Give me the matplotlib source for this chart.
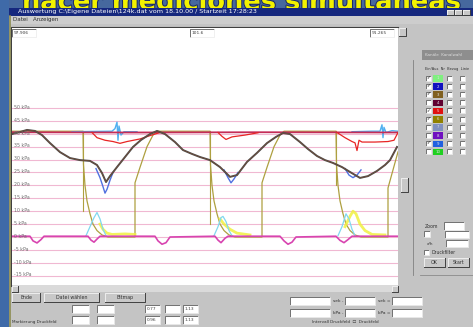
import matplotlib.pyplot as plt
from matplotlib.patches import Rectangle
import matplotlib.patheffects as pe

nan = float('nan')

# pressure traces, x = sample index across the screen (0..386), y = kPa
n_mean = [0, 8, 15, 23, 30, 38, 48, 58, 68, 78, 85, 90, 94, 98, 105, 113, 121, 129, 138, 145,
          153, 163, 171, 180, 188, 198, 208, 218, 225, 235, 245, 255, 264, 271, 278, 288, 296,
          305, 313, 321, 330, 338, 348, 356, 365, 373, 378, 385]
p_mean = [39.9, 40.7, 41.5, 41.1, 39.5, 36.4, 32.9, 30.6, 29.8, 29.5, 27.9, 24.8, 21.3, 23.6,
          27.1, 31.0, 34.9, 37.6, 39.9, 41.1, 39.9, 36.8, 33.7, 32.2, 31.0, 29.8, 27.1, 23.3,
          24.0, 29.1, 32.6, 36.4, 38.8, 40.3, 39.9, 36.8, 34.1, 31.4, 29.8, 28.7, 27.1, 25.2,
          22.9, 23.6, 25.6, 27.9, 29.8, 34.9]

n_aorta = [0, 120, 250, 386]
p_aorta = [40.6, 40.5, 40.6, 40.5]

n_red = [80, 85, 93, 101, 108, 115, 128, 138, 148, nan, 206, 210, 214, 220, 233, 246, nan,
         325, 333, 340, 343, 345, 347, 350, 363, 376, 382, 386]
p_red = [40.5, 38.5, 37.5, 37.0, 36.3, 37.0, 38.0, 39.3, 40.5, nan, 40.5, 39.0, 37.8, 38.8,
         39.5, 40.4, nan, 40.5, 38.5, 37.0, 36.5, 33.5, 37.5, 36.8, 36.8, 37.0, 37.5, 40.5]

n_lblue = [60, 80, 100, 103, 105, 106, 107, 109, 112, 125, nan,
           340, 360, 368, 370, 371, 372, 374, 380, 386]
p_lblue = [40.8, 40.9, 41.0, 42.0, 44.5, 37.5, 43.0, 39.5, 40.8, 40.8, nan,
           40.8, 41.0, 41.0, 43.5, 38.5, 42.5, 40.5, 41.2, 41.0]

n_blue = [84, 88, 91, 93, 95, 98, 101, nan, 212, 216, 219, 222, 226, nan, 333, 337, 341, 345, 349]
p_blue = [26.5, 23.0, 19.5, 17.0, 18.5, 22.0, 25.0, nan, 26.0, 23.0, 21.0, 22.5, 25.0, nan,
          26.5, 24.0, 23.0, 24.0, 26.0]

n_lv = [0, 71, 71.5, 73, 75, 78, 81, 85, 90, 96, 123, 123, 128, 135, 141, 145,
        198, 198.5, 200, 202, 205, 208, 212, 217, 223, 250, 250, 255, 262, 268, 272,
        324, 324.5, 326, 328, 331, 334, 338, 343, 349, 376, 376, 381, 386]
p_lv = [41, 41, 28, 20, 14, 9, 5, 2.5, 0.8, 0, 0, 21, 27, 35, 39.5, 41,
        41, 28, 20, 14, 9, 5, 2.5, 0.8, 0, 0, 21, 27, 35, 39.5, 41,
        41, 28, 20, 14, 9, 5, 2.5, 0.8, 0, 0, 19, 26, 33]
n_lv_drop = [71, 198, 324]
p_lv_drop_low = [10, 5, 20]

n_yellow = [88, 91, 95, 100, 113, 123, nan, 208, 212, 218, 225, 238, nan,
            333, 338, 341, 344, 348, 353, 360, 373]
p_yellow = [5, 3, 1.5, 1.0, 1.2, 1.0, nan, 7, 5, 3, 1.5, 0.8, nan,
            4, 8, 10, 9, 5, 2.5, 1.0, 0.8]

n_cyan = [74, 78, 82, 85, 88, 91, 94, nan, 202, 206, 209, 211, 214, 217, 220, nan,
          326, 330, 334, 337, 340, 343]
p_cyan = [0.5, 4, 7.5, 9.5, 7, 3, 0.5, nan, 0.5, 4, 7.5, 8, 6, 2.5, 0.5, nan,
          0.5, 4, 9, 7, 3, 0.5]

n_base = [0, 18, 21, 25, 29, 32, 76, 79, 82, 85, 88, 143, 146, 150, 154, 158, 203, 206, 209,
          213, 216, 268, 272, 276, 280, 284, 324, 328, 332, 336, 340, 386]
p_base = [0.3, 0.3, -1.5, -2.3, -1.0, 0.3, 0.3, -1.2, -2.0, -0.8, 0.3, 0.3, -1.5, -2.8, -2.2,
          0.0, 0.3, -1.2, -2.2, -0.5, 0.3, 0.3, -1.5, -2.8, -2.0, 0.0, 0.3, -1.3, -2.2, -1.0,
          0.3, 0.3]

grid_kpa = [50, 45, 40, 35, 30, 25, 20, 15, 10, 5, 0, -5, -10, -15]

channel_colors = ['#80f080', '#1010c0', '#806020', '#600030', '#e01010',
                  '#908000', '#8090c0', '#7010c0', '#2060e0', '#20d020']
channel_on = [1, 1, 1, 0, 1, 1, 0, 0, 1, 0]
top_values = ['97.906', '101.6', '91.265']

fig = plt.figure(figsize=(4.73, 3.27), dpi=100)
bg = fig.add_axes([0, 0, 1, 1])
bg.set_xlim(0, 473)
bg.set_ylim(327, 0)
bg.axis('off')


def box(a, x, y, w, h, fc, ec='none', lw=0.5, z=1):
    a.add_patch(Rectangle((x, y), w, h, facecolor=fc, edgecolor=ec, linewidth=lw, zorder=z))


def sunken(a, x, y, w, h, fc='white', label=None):
    box(a, x, y, w, h, fc)
    a.plot([x, x, x + w], [y + h, y, y], color='#5a5a5a', lw=0.6)
    a.plot([x, x + w, x + w], [y + h, y + h, y], color='#eeeeee', lw=0.6)
    if label:
        a.text(x + 1.5, y + h / 2, label, fontsize=3.2, va='center', color='#404040')


def button(a, x, y, w, h, label):
    box(a, x, y, w, h, '#c8c8c8')
    a.plot([x, x, x + w], [y + h, y, y], color='#f4f4f4', lw=0.6)
    a.plot([x, x + w, x + w], [y + h, y + h, y], color='#404040', lw=0.7)
    a.text(x + w / 2, y + h / 2 + 0.3, label, fontsize=3.4, ha='center', va='center',
           color='#303030')


# slide background with its title, mostly hidden behind the window
box(bg, 0, 0, 473, 327, '#46689e', z=0)
box(bg, 0, 0, 9, 327, '#3f6aa8', z=0)
bg.text(22, 9.5, 'hacer mediciones simultáneas', fontsize=18.5,
        fontweight='bold', color='#f2f200', va='baseline', zorder=0.5,
        path_effects=[pe.withStroke(linewidth=1.5, foreground='#1c2c66')])

# window
box(bg, 9, 8, 464, 319, '#c4c4c4')
box(bg, 9, 8, 464, 8, '#16287e')
bg.text(18, 12, 'Auswertung C:\\Eigene Dateien\\124k.dat vom 18.10.00 / Startzeit 17:28:23',
        fontsize=4.6, color='white', va='center')
for bx in [447, 455, 463]:
    button(bg, bx, 9.5, 7, 5.5, '')
box(bg, 9, 16, 464, 8, '#cdcdcd')
bg.text(13, 20, 'Datei   Anzeigen', fontsize=4.0, color='#303030', va='center')
bg.plot([9.5, 9.5], [16, 327], color='#8c8c50', lw=1.2)

# plot frame
bg.plot([11, 11, 398], [286, 27, 27], color='#404040', lw=0.8)
box(bg, 12, 285, 386, 7, '#dadada')
button(bg, 12, 286, 6, 6, '')
button(bg, 392, 286, 6, 6, '')

# main chart
ax = fig.add_axes([12 / 473, (327 - 285) / 327, 386 / 473, (285 - 28) / 327])
ax.set_xlim(0, 386)
ax.set_ylim(-18.6, 81)
ax.set_facecolor('white')
for s in ax.spines.values():
    s.set_visible(False)
ax.set_xticks([])
ax.set_yticks([])
for g in grid_kpa:
    ax.axhline(g, color='#f0b8d2', lw=0.8, zorder=1)
    ax.text(1.5, g + 0.3, f'{g} kPa', fontsize=3.4, color='#707070', va='center', zorder=6)

ax.plot(n_lblue, p_lblue, color='#50b0f0', lw=1.0, zorder=3)
ax.plot(n_lv, p_lv, color='#aea040', lw=0.9, zorder=2)
for xv, lo in zip(n_lv_drop, p_lv_drop_low):
    ax.plot([xv, xv], [41, lo], color='#aea040', lw=0.8, zorder=2)
ax.plot(n_aorta, p_aorta, color='#c42c58', lw=1.3, zorder=3)
ax.plot(n_red, p_red, color='#e82424', lw=0.9, zorder=4)
ax.plot(n_blue, p_blue, color='#5070e0', lw=1.0, zorder=3)
ax.plot(n_mean, p_mean, color='#4a4a4a', lw=1.4, zorder=4)
ax.plot(n_mean, p_mean, color='#8a5030', lw=0.5, alpha=0.7, zorder=5)
ax.plot(n_yellow, p_yellow, color='#f0f040', lw=2.0, alpha=0.85, zorder=3)
ax.plot(n_cyan, p_cyan, color='#80d8f0', lw=0.9, zorder=3)
ax.plot(n_base, p_base, color='#d844b0', lw=1.2, zorder=3)

# overlay for the boxes sitting on the chart and the side/bottom panels
top = fig.add_axes([0, 0, 1, 1])
top.set_xlim(0, 473)
top.set_ylim(327, 0)
top.axis('off')
top.patch.set_alpha(0)
for xb, lab in zip([12, 190, 370], top_values):
    sunken(top, xb, 28.5, 24, 8, label=lab)
button(top, 399, 28, 7, 8, '')

# side panel
top.plot([413, 413], [60, 275], color='#808080', lw=0.6)
button(top, 401, 178, 7, 14, '')
box(top, 422, 50, 51, 10, '#8e8e8e')
top.text(425, 55, 'Kanäle  Kanalwahl', fontsize=3.0, color='#dcdcdc', va='center')
top.text(425, 69, 'Ein/Aus  Nr  Bezug  Linie', fontsize=2.6, color='#303030', va='center')
for i, (c, on) in enumerate(zip(channel_colors, channel_on)):
    yr = 75.5 + 8.2 * i
    sunken(top, 426, yr, 5, 5)
    if on:
        top.text(428.5, yr + 2.7, '✓', fontsize=3.2, ha='center', va='center', color='black')
    box(top, 433, yr - 0.5, 10, 6.5, c)
    top.text(438, yr + 2.8, str(i + 1), fontsize=2.8, ha='center', va='center', color='#e0e0e0')
    sunken(top, 447, yr, 5, 5)
    sunken(top, 460, yr, 5, 5)

top.text(425, 226, 'Zoom', fontsize=3.3, va='center', color='#303030')
sunken(top, 444, 222, 20, 8)
sunken(top, 424, 231, 6, 6)
sunken(top, 445, 231, 24, 7)
top.text(427, 244, 'x/h', fontsize=3.0, va='center', color='#303030')
sunken(top, 446, 240, 22, 7)
sunken(top, 424, 250, 5, 5)
top.text(431, 252.5, 'Druckfilter', fontsize=3.3, va='center', color='#303030')
button(top, 424, 258, 21, 9, 'OK')
button(top, 448, 258, 21, 9, 'Start')
top.plot([420, 473], [275, 275], color='#8a8a8a', lw=0.6)

# bottom panel
button(top, 12, 293, 28, 9, 'Ende')
button(top, 44, 293, 55, 9, 'Datei wählen')
button(top, 105, 293, 40, 9, 'Bitmap')
top.text(12, 322, 'Markierung Druckfeld', fontsize=3.0, va='center', color='#303030')
for xs in [72, 97]:
    sunken(top, xs, 305, 17, 8)
    sunken(top, xs, 316, 17, 8)
for xs, lab in zip([145, 165, 183], ['0.77', '', '1.13']):
    sunken(top, xs, 305, 15, 8, label=lab)
    sunken(top, xs, 316, 15, 8, label=lab.replace('0.77', '0.96'))
for yy, unit in zip([297, 309], ['sek', 'kPa']):
    sunken(top, 290, yy, 40, 8)
    top.text(333, yy + 4, unit + ' -', fontsize=3.2, va='center', color='#303030')
    sunken(top, 345, yy, 30, 8)
    top.text(378, yy + 4, unit + ' =', fontsize=3.2, va='center', color='#303030')
    sunken(top, 392, yy, 30, 8)
top.text(312, 322, 'Intervall Druckfeld  ☐  Druckfeld', fontsize=3.0, va='center',
         color='#303030')

fig.savefig('out.png', dpi=100)
